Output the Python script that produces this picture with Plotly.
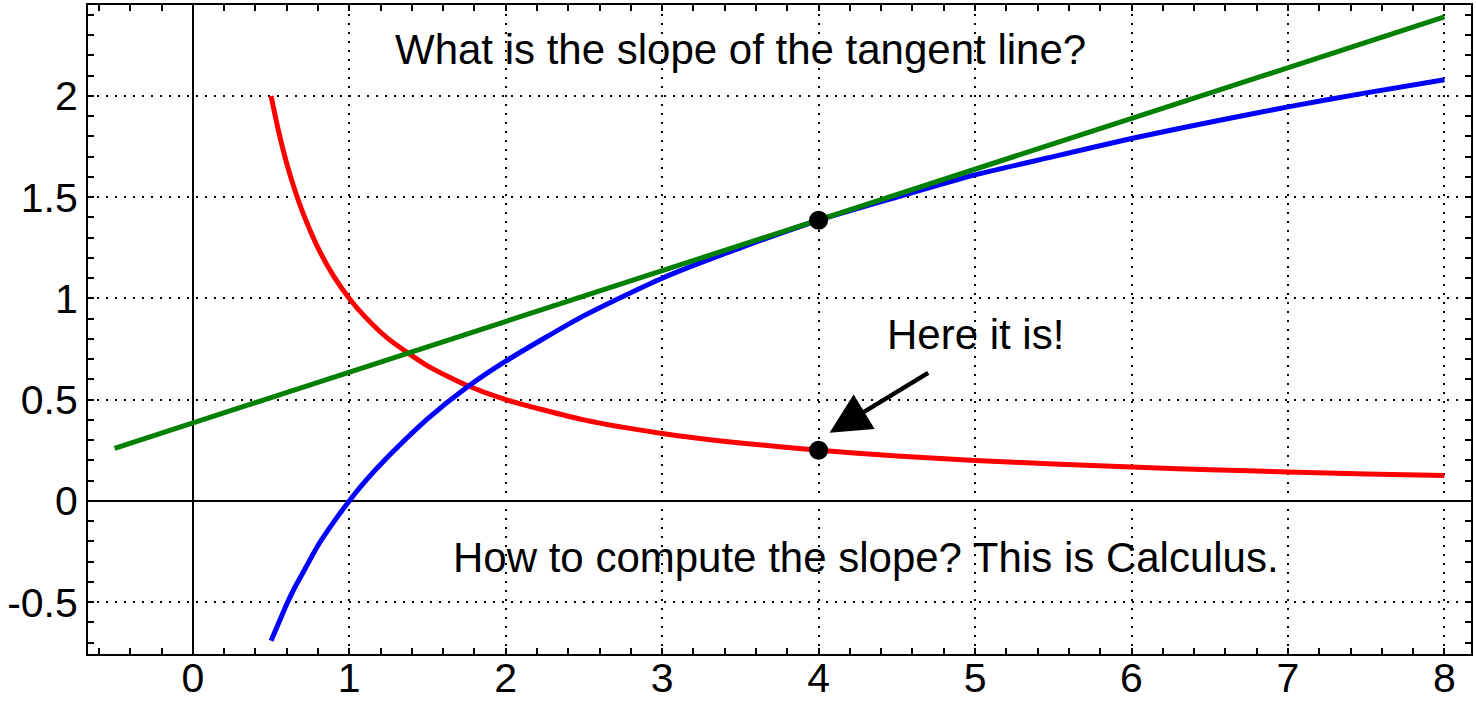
import plotly.graph_objects as go

# values
curve_x = [0.5, 0.55, 0.6, 0.65, 0.7, 0.8, 0.9, 1.0, 1.1, 1.25, 1.5, 1.75, 2.0, 2.5, 3.0,
           3.5, 4.0, 4.5, 5.0, 5.5, 6.0, 6.5, 7.0, 7.5, 8.0]
log_y = [-0.69, -0.60, -0.51, -0.43, -0.36, -0.22, -0.105, 0.0, 0.095, 0.22, 0.405, 0.56,
         0.69, 0.915, 1.10, 1.25, 1.386, 1.50, 1.61, 1.70, 1.79, 1.87, 1.946, 2.015, 2.08]
recip_y = [2.0, 1.82, 1.667, 1.54, 1.43, 1.25, 1.11, 1.0, 0.91, 0.8, 0.667, 0.571,
           0.5, 0.4, 0.333, 0.286, 0.25, 0.222, 0.2, 0.182, 0.167, 0.154, 0.143, 0.133, 0.125]
tangent_x = [-0.5, 8.0]
tangent_y = [0.26, 2.39]
dots_x = [4, 4]
dots_y = [1.386, 0.25]

x_ticks = [0, 1, 2, 3, 4, 5, 6, 7, 8]
x_labels = ["0", "1", "2", "3", "4", "5", "6", "7", "8"]
y_ticks = [-0.5, 0, 0.5, 1, 1.5, 2]
y_labels = ["-0.5", "0", "0.5", "1", "1.5", "2"]

font = "Liberation Sans, Arial, sans-serif"
fs = 41

fig = go.Figure()
fig.add_trace(go.Scatter(x=curve_x, y=recip_y, mode="lines", line=dict(color="#ff0000", width=5, shape="spline", smoothing=0.6)))
fig.add_trace(go.Scatter(x=curve_x, y=log_y, mode="lines", line=dict(color="#0000ff", width=5, shape="spline", smoothing=0.6)))
fig.add_trace(go.Scatter(x=tangent_x, y=tangent_y, mode="lines", line=dict(color="#008000", width=5)))
fig.add_trace(go.Scatter(x=dots_x, y=dots_y, mode="markers", marker=dict(color="black", size=19)))

fig.add_annotation(x=3.5, y=2.227, text="What is the slope of the tangent line?", showarrow=False,
                   font=dict(size=42, color="black"))
fig.add_annotation(x=5.0, y=0.82, text="Here it is!", showarrow=False, font=dict(size=42, color="black"))
fig.add_annotation(x=4.3, y=-0.28, text="How to compute the slope? This is Calculus.", showarrow=False,
                   font=dict(size=42, color="black"))
fig.add_annotation(x=4.07, y=0.336, ax=4.71, ay=0.637, axref="x", ayref="y", xref="x", yref="y",
                   text="", showarrow=True, arrowhead=2, arrowsize=1.8, arrowwidth=4.5, arrowcolor="black")

axis_common = dict(
    showline=True, linecolor="black", linewidth=2, mirror="ticks",
    ticks="inside", ticklen=6, tickwidth=1.5, tickcolor="black",
    showgrid=True, gridcolor="black", gridwidth=1.5, griddash="2px,7px",
    zeroline=True, zerolinecolor="black", zerolinewidth=1.5,
    tickfont=dict(size=fs, color="black"), automargin=False,
)

fig.update_xaxes(range=[-0.67, 8.17], tickvals=x_ticks, ticktext=x_labels, ticklabelstandoff=-13,
                 minor=dict(dtick=0.2, tick0=0, ticks="inside", ticklen=6, tickwidth=1.5, tickcolor="black", showgrid=False),
                 **axis_common)
fig.update_yaxes(range=[-0.756, 2.449], tickvals=y_ticks, ticktext=y_labels,
                 minor=dict(dtick=0.1, tick0=0, ticks="inside", ticklen=6, tickwidth=1.5, tickcolor="black", showgrid=False),
                 **axis_common)

fig.update_layout(
    width=1476, height=702,
    margin=dict(l=88, r=5, t=5, b=48),
    plot_bgcolor="white", paper_bgcolor="white",
    showlegend=False,
    font=dict(family=font, color="black"),
)

fig.write_html("out.html", config={"displayModeBar": False},
               post_script="document.body.style.margin='0';document.body.style.overflow='hidden';")
